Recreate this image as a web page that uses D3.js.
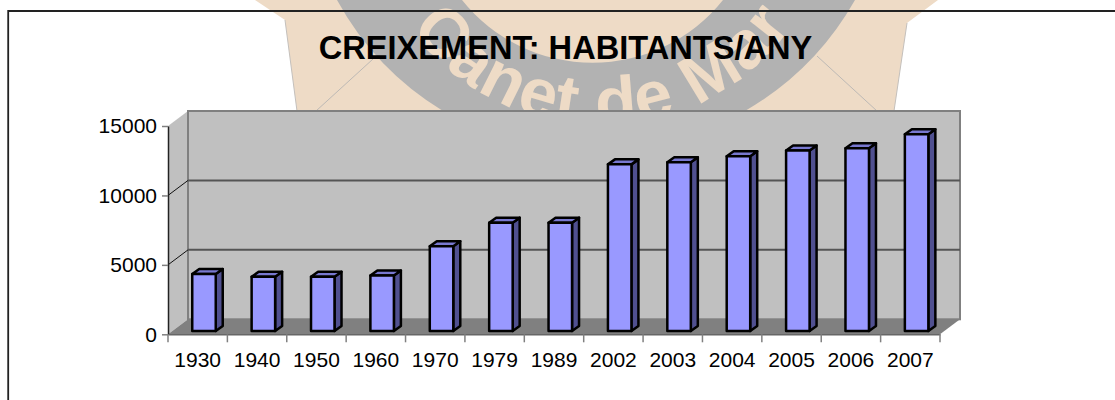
<!DOCTYPE html>
<html>
<head>
<meta charset="utf-8">
<title>Creixement</title>
<script src="https://d3js.org/d3.v7.min.js"></script>
<style>
    html, body { margin: 0; padding: 0; background: #fff; overflow: hidden; }
    svg { display: block; }
    text { font-family: "Liberation Sans", Arial, sans-serif; fill: #000; }
    .axis text { font-size: 21px; }
</style>
</head>
<body>
<svg id="chart" width="1115" height="400"></svg>
<script>
var categories = ["1930","1940","1950","1960","1970","1979","1989","2002","2003","2004","2005","2006","2007"];
var habitants = [4100,3900,3900,4000,6100,7800,7800,12000,12150,12580,13000,13160,14170];
var yTicks = [0,5000,10000,15000];
var title = "CREIXEMENT: HABITANTS/ANY";
var logoText = "Canet de Mar";

var svg = d3.select("#chart");

// plot box, the back wall is shifted by the depth
var left = 168, right = 940, bottom = 334.3, top15 = 126;
var depthX = 20, depthY = -15;

var x = d3.scaleBand().domain(categories).range([left, right]);
var y = d3.scaleLinear().domain([0, 15000]).range([bottom, top15]);

// logo behind the chart, only its lower part shows
var logo = svg.append("g");
logo.append("path")
    .attr("d", "M255,0 L285,20 L297,111 L894,111 L907,23 L938,0 Z")
    .attr("fill", "#eedbc6");
logo.append("path")
    .attr("d", "M285,20 L297,111 M894,111 L907,23")
    .attr("stroke", "#c4c0bc").attr("fill", "none");
logo.append("path")
    .attr("d", "M316,111 L373,59 M817,56 L877,111")
    .attr("stroke", "#bdb9b5").attr("fill", "none");
// grey ring between two circles
logo.append("path")
    .attr("d", "M337,0 A297,297 0 0 0 443,111 L745,111 A297,297 0 0 0 855,0 L723,0 A167,167 0 0 1 462,0 Z")
    .attr("fill", "#b2b2b2");
logo.append("defs").append("path")
    .attr("id", "logoArc")
    .attr("d", "M373,-49.2 A235,235 0 0 0 827,-49.2");
logo.append("text")
    .attr("font-size", 68)
    .attr("font-weight", "bold")
    .attr("letter-spacing", 1.5)
    .style("fill", "#eedbc6")
    .append("textPath")
    .attr("href", "#logoArc")
    .attr("startOffset", "50.4%")
    .attr("text-anchor", "middle")
    .text(logoText);

// frame, open on the right and at the bottom
svg.append("path")
    .attr("d", "M8.2,400 L8.2,11 L1115,11")
    .attr("fill", "none").attr("stroke", "#222").attr("stroke-width", 1.8);

svg.append("text")
    .attr("x", 565.5).attr("y", 59)
    .attr("text-anchor", "middle")
    .attr("font-size", 32.6)
    .attr("font-weight", "bold")
    .text(title);

// walls and floor
var backLeft = left + depthX, backRight = right + depthX;
var backBottom = bottom + depthY, backTop = top15 + depthY;

svg.append("polygon")
    .attr("points", [[left,top15],[backLeft,backTop],[backLeft,backBottom],[left,bottom]].join(" "))
    .attr("fill", "#c0c0c0");
svg.append("rect")
    .attr("x", backLeft).attr("y", backTop)
    .attr("width", backRight - backLeft).attr("height", backBottom - backTop)
    .attr("fill", "#c0c0c0").attr("stroke", "#808080").attr("stroke-width", 2);
svg.append("polygon")
    .attr("points", [[left,bottom],[backLeft,backBottom],[backRight,backBottom],[right,bottom]].join(" "))
    .attr("fill", "#808080");

// gridlines on both walls
var inner = yTicks.slice(1, 3);
svg.selectAll(".grid").data(inner).join("line")
    .attr("x1", backLeft).attr("x2", backRight)
    .attr("y1", function(d){ return y(d) + depthY; })
    .attr("y2", function(d){ return y(d) + depthY; })
    .attr("stroke", "#555").attr("stroke-width", 2);
svg.selectAll(".gridSide").data(inner).join("line")
    .attr("x1", left).attr("x2", backLeft)
    .attr("y1", function(d){ return y(d); })
    .attr("y2", function(d){ return y(d) + depthY; })
    .attr("stroke", "#111");

// bars stand a little behind the front edge
var barInset = 6.3, barLift = 3.3, barW = 23.5, barDx = 7, barDy = -5;
var bars = svg.selectAll(".bar").data(categories).join("g")
    .attr("stroke", "#000").attr("stroke-width", 2.5).attr("stroke-linejoin", "round");

function barX(d){ return x(d) + x.bandwidth() / 2 + barInset - barW / 2; }
function barTop(i){ return y(habitants[i]) - barLift; }

bars.append("polygon")
    .attr("fill", "#505090")
    .attr("points", function(d, i){
        var x1 = barX(d) + barW, b = bottom - barLift;
        return [[x1,barTop(i)],[x1+barDx,barTop(i)+barDy],[x1+barDx,b+barDy],[x1,b]].join(" ");
    });
bars.append("polygon")
    .attr("fill", "#7878d0")
    .attr("points", function(d, i){
        var x0 = barX(d), t = barTop(i);
        return [[x0,t],[x0+barDx,t+barDy],[x0+barW+barDx,t+barDy],[x0+barW,t]].join(" ");
    });
bars.append("rect")
    .attr("fill", "#9999ff")
    .attr("x", barX)
    .attr("y", function(d, i){ return barTop(i); })
    .attr("width", barW)
    .attr("height", function(d, i){ return bottom - barLift - barTop(i); });

// axes
var yAxis = svg.append("g").attr("class", "axis")
    .attr("transform", "translate(" + left + ",0)")
    .call(d3.axisLeft(y).tickValues(yTicks).tickFormat(d3.format("d")).tickSize(6).tickPadding(5).tickSizeOuter(0));
yAxis.select(".domain").attr("stroke", "#222").attr("stroke-width", 1.5);
yAxis.selectAll(".tick line").attr("stroke", "#808080").attr("stroke-width", 1.5);

var xAxis = svg.append("g").attr("class", "axis")
    .attr("transform", "translate(0," + bottom + ")")
    .call(d3.axisBottom(x).tickSize(0).tickPadding(18));
xAxis.select(".domain").attr("stroke", "#666").attr("stroke-width", 1.5);

// ticks sit between the categories, not on them
var edges = categories.map(function(d){ return x(d); }).concat([right]);
xAxis.selectAll(".edge").data(edges).join("line")
    .attr("x1", function(d){ return d; }).attr("x2", function(d){ return d; })
    .attr("y1", 0).attr("y2", 8)
    .attr("stroke", "#808080").attr("stroke-width", 1.5);
</script>
</body>
</html>
